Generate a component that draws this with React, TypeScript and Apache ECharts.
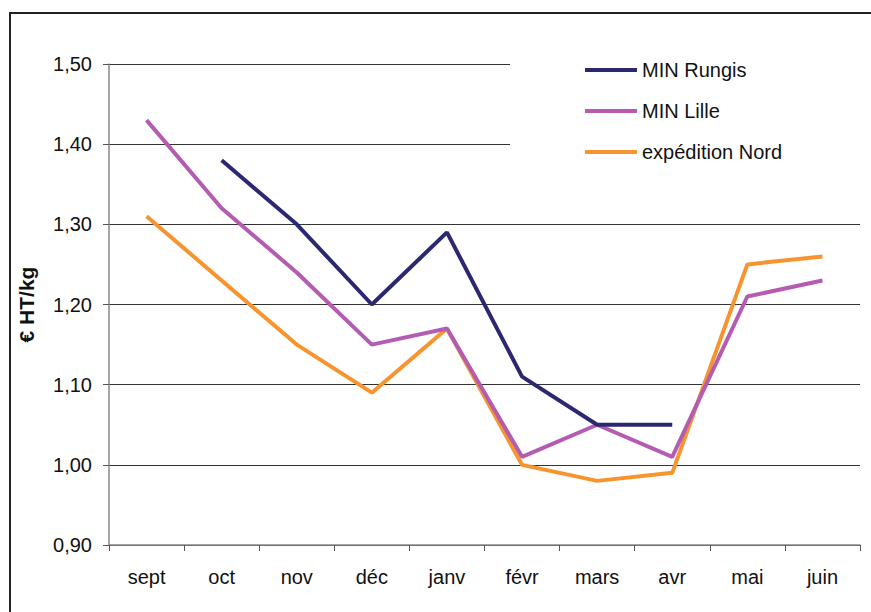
import React, { useEffect, useRef } from "react";
import * as echarts from "echarts";

const categories = ["sept", "oct", "nov", "déc", "janv", "févr", "mars", "avr", "mai", "juin"];
const rungis = [null, 1.38, 1.3, 1.2, 1.29, 1.11, 1.05, 1.05, null, null];
const lille = [1.43, 1.32, 1.24, 1.15, 1.17, 1.01, 1.05, 1.01, 1.21, 1.23];
const nord = [1.31, 1.23, 1.15, 1.09, 1.17, 1.0, 0.98, 0.99, 1.25, 1.26];
const seriesNames = ["MIN Rungis", "MIN Lille", "expédition Nord"];
const colors = ["#2B2771", "#B35CB1", "#F7942E"];
const yName = "€ HT/kg";

export default function App() {
  const ref = useRef<HTMLDivElement>(null);
  useEffect(() => {
    if (!ref.current) return;
    const chart = echarts.init(ref.current, null, { renderer: "svg" });
    const font = "'Liberation Sans', Arial, sans-serif";
    const dataSets = [rungis, lille, nord];
    chart.setOption({
      animation: false,
      backgroundColor: "#fff",
      textStyle: { fontFamily: font },
      graphic: [
        {
          type: "rect",
          shape: { x: 10, y: 13, width: 900, height: 700 },
          style: { fill: "none", stroke: "#222", lineWidth: 2 },
          z: 100,
        },
      ],
      grid: { left: 109, right: 11, top: 64, bottom: 67 },
      legend: {
        orient: "vertical",
        left: 510,
        top: 40,
        padding: [20, 200, 20, 75],
        backgroundColor: "#fff",
        icon: "rect",
        itemWidth: 52,
        itemHeight: 4,
        itemGap: 21,
        textStyle: { fontSize: 20, color: "#111", fontFamily: font, lineHeight: 20 },
        data: seriesNames,
      },
      xAxis: {
        type: "category",
        data: categories,
        boundaryGap: true,
        axisLine: { lineStyle: { color: "#888", width: 1.5 } },
        axisTick: { show: true, length: 6, lineStyle: { color: "#555" } },
        axisLabel: { fontSize: 20, color: "#111", margin: 22, fontFamily: font },
      },
      yAxis: {
        type: "value",
        min: 0.9,
        max: 1.5,
        interval: 0.1,
        name: yName,
        nameLocation: "middle",
        nameRotate: 90,
        nameGap: 72,
        nameTextStyle: { fontSize: 21, fontWeight: "bold", color: "#111", fontFamily: font },
        axisLine: { show: true, lineStyle: { color: "#888", width: 1.5 } },
        axisTick: { show: true, length: 6, lineStyle: { color: "#555" } },
        axisLabel: {
          fontSize: 20,
          color: "#111",
          margin: 17,
          fontFamily: font,
          formatter: (v: number) => v.toFixed(2).replace(".", ","),
        },
        splitLine: { show: true, lineStyle: { color: "#333", width: 1 } },
      },
      series: seriesNames.map((name, i) => ({
        name,
        type: "line",
        data: dataSets[i],
        symbol: "none",
        connectNulls: false,
        lineStyle: { color: colors[i], width: 4 },
        itemStyle: { color: colors[i] },
        z: 2 + (2 - i),
      })),
    });
    return () => chart.dispose();
  }, []);
  return <div ref={ref} style={{ position: "fixed", left: 0, top: 0, width: 871, height: 612 }} />;
}
